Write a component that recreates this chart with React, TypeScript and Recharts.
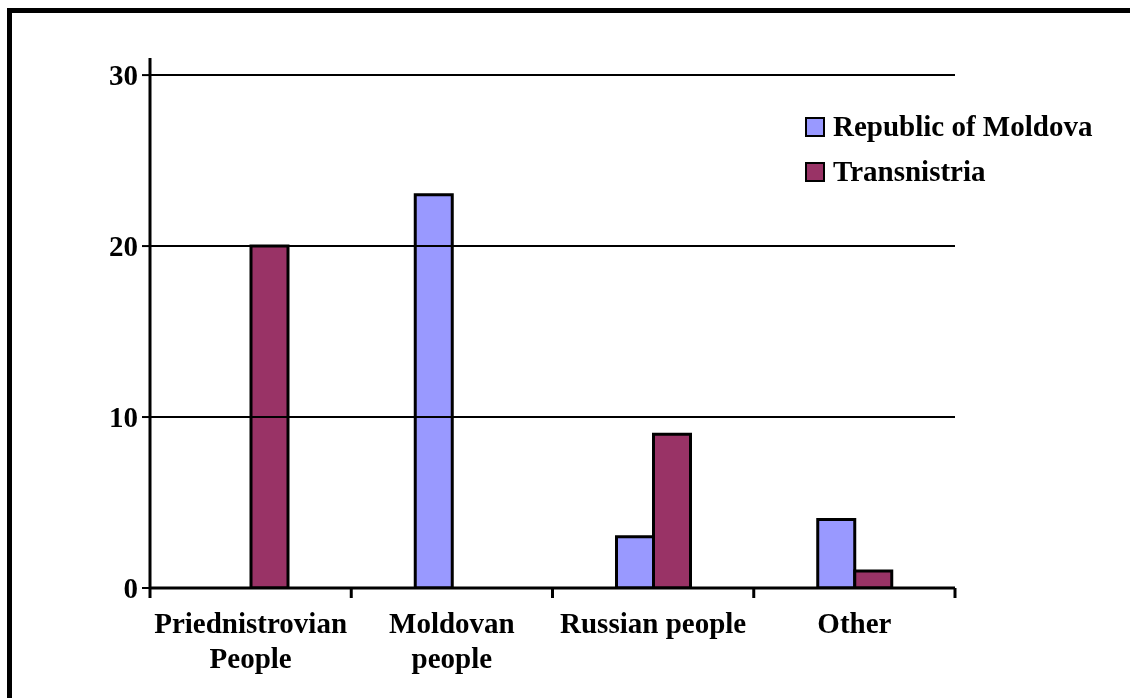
import React from 'react';
import { BarChart, Bar, XAxis, YAxis, ReferenceLine, Legend } from 'recharts';

const categories = ['Priednistrovian\nPeople', 'Moldovan\npeople', 'Russian people', 'Other'];
const moldovaValues = [0, 23, 3, 4];
const transnistriaValues = [20, 0, 9, 1];
const yTicks = [0, 10, 20, 30];
const gridValues = [10, 20, 30];
const seriesNames = ['Republic of Moldova', 'Transnistria'];
const seriesColors = ['#9999FF', '#993366'];

const data = categories.map((c, i) => ({
  name: c,
  moldova: moldovaValues[i],
  transnistria: transnistriaValues[i],
}));

const FONT = '"Liberation Serif", "Times New Roman", serif';
const FONT_SIZE = 29;
const CHART_W = 1110;
const CHART_H = 680;
const MARGIN = { top: 50, right: 163, bottom: 40, left: 82 };
const YAXIS_W = 60;
const PLOT_W = CHART_W - MARGIN.left - MARGIN.right - YAXIS_W;

const XTick = (props: any) => {
  const { x, y, payload, index } = props;
  const half = PLOT_W / categories.length / 2;
  const lines = String(payload.value).split('\n');
  return (
    <g>
      {index === 0 && (
        <line x1={x - half} x2={x - half} y1={y} y2={y + 10} stroke="#000" strokeWidth={3} />
      )}
      <line x1={x + half} x2={x + half} y1={y} y2={y + 10} stroke="#000" strokeWidth={3} />
      <text
        x={x}
        y={y + 45}
        textAnchor="middle"
        fill="#000"
        fontFamily={FONT}
        fontWeight="bold"
        fontSize={FONT_SIZE}
      >
        {lines.map((l, i) => (
          <tspan key={i} x={x} dy={i === 0 ? 0 : 35}>
            {l}
          </tspan>
        ))}
      </text>
    </g>
  );
};

const renderLegend = (props: any) => {
  const payload = props.payload || [];
  return (
    <div style={{ fontFamily: FONT, fontWeight: 'bold', fontSize: FONT_SIZE, color: '#000' }}>
      {payload.map((p: any, i: number) => (
        <div key={i} style={{ display: 'flex', alignItems: 'center', height: 45, whiteSpace: 'nowrap' }}>
          <span
            style={{
              display: 'inline-block',
              width: 20,
              height: 20,
              background: p.color,
              border: '2px solid #000',
              boxSizing: 'border-box',
              marginRight: 8,
            }}
          />
          <span>{p.value}</span>
        </div>
      ))}
    </div>
  );
};

export default function App() {
  return (
    <div style={{ width: CHART_W, height: CHART_H, position: 'relative' }}>
      <div
        style={{
          position: 'fixed',
          left: 7,
          top: 8,
          width: 1400,
          height: 1000,
          borderLeft: '5px solid #000',
          borderTop: '5px solid #000',
          boxSizing: 'border-box',
          pointerEvents: 'none',
        }}
      />
      <div style={{ position: 'absolute', left: 0, top: 0 }}>
        <BarChart width={CHART_W} height={CHART_H} data={data} margin={MARGIN} barGap={0}>
          <XAxis
            dataKey="name"
            height={60}
            axisLine={{ stroke: '#000', strokeWidth: 3 }}
            tickLine={false}
            tickSize={0}
            tickMargin={0}
            tick={<XTick />}
            interval={0}
          />
          <YAxis
            width={YAXIS_W}
            domain={[0, 31]}
            ticks={yTicks}
            allowDataOverflow
            axisLine={{ stroke: '#000', strokeWidth: 3 }}
            tickLine={{ stroke: '#000', strokeWidth: 2 }}
            tickSize={8}
            tickMargin={4}
            tick={{ fill: '#000', fontFamily: FONT, fontWeight: 'bold', fontSize: FONT_SIZE }}
          />
          {gridValues.map((v) => (
            <ReferenceLine key={v} y={v} stroke="#000" strokeWidth={2} />
          ))}
          <Legend
            content={renderLegend}
            layout="horizontal"
            verticalAlign="middle"
            align="center"
            wrapperStyle={{ left: 797, top: 96, width: 310 }}
          />
          <Bar
            dataKey="moldova"
            name={seriesNames[0]}
            fill={seriesColors[0]}
            stroke="#000"
            strokeWidth={3}
            barSize={37}
            isAnimationActive={false}
          />
          <Bar
            dataKey="transnistria"
            name={seriesNames[1]}
            fill={seriesColors[1]}
            stroke="#000"
            strokeWidth={3}
            barSize={37}
            isAnimationActive={false}
          />
        </BarChart>
      </div>
    </div>
  );
}
